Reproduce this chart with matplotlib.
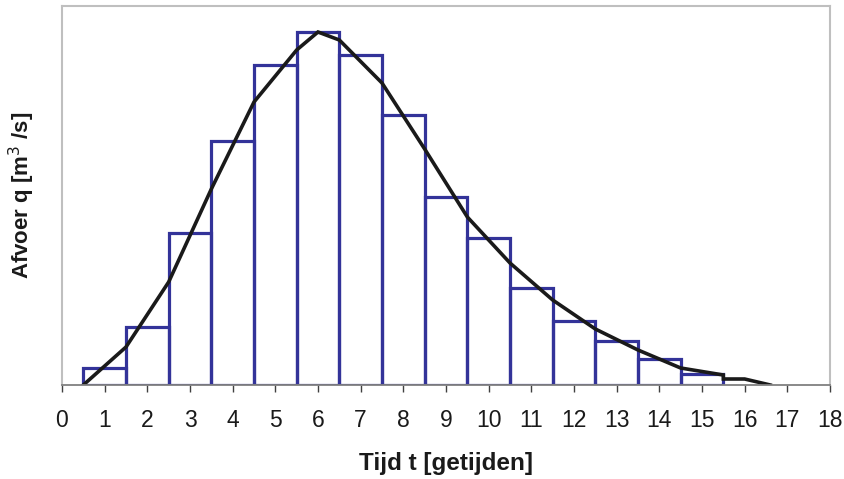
import matplotlib
matplotlib.use("Agg")
import matplotlib.pyplot as plt

# Data (relative discharge units)
bar_t = [1, 2, 3, 4, 5, 6, 7, 8, 9, 10, 11, 12, 13, 14, 15]
bar_q = [1.7, 5.8, 15.2, 24.4, 32.0, 35.3, 33.0, 27.0, 18.8, 14.7, 9.7, 6.4, 4.4, 2.6, 1.1]

line_t = [0.5, 1.5, 2.5, 3.5, 4.5, 5.5, 6.0, 6.5, 7.5, 8.5, 9.5, 10.5, 11.5, 12.5, 13.5, 14.5, 15.5, 15.5, 16.0, 16.6]
line_q = [0.0, 3.8, 10.3, 19.6, 28.3, 33.5, 35.3, 34.5, 30.2, 23.6, 16.8, 12.2, 8.5, 5.6, 3.5, 1.7, 1.0, 0.6, 0.6, 0.0]

xticks = list(range(0, 19))

plt.rcParams['font.family'] = ['Liberation Sans', 'DejaVu Sans']

fig = plt.figure(figsize=(8.44, 4.79), dpi=100)
ax = fig.add_axes([62/844, 1 - 385/479, (830 - 62)/844, (385 - 6)/479])

ax.bar(bar_t, bar_q, width=1.0, fill=False, edgecolor='#333399', linewidth=2.3, zorder=2)
ax.plot(line_t, line_q, color='#1a1a1a', linewidth=2.6, zorder=3, solid_joinstyle='miter')

ax.set_xlim(0, 18)
ax.set_ylim(0, 37.9)
ax.set_xticks(xticks)
ax.set_xticklabels([str(t) for t in xticks], fontsize=16.5, color='#1a1a1a')
ax.set_yticks([])

for s in ['left', 'top', 'right']:
    ax.spines[s].set_color('#BFBFBF')
    ax.spines[s].set_linewidth(1.5)
ax.spines['bottom'].set_color('#808080')
ax.spines['bottom'].set_linewidth(1.3)
ax.spines['bottom'].set_zorder(4)
ax.tick_params(axis='x', direction='out', length=5, width=1.0, color='#404040', pad=12)

ax.set_xlabel('Tijd t [getijden]', fontsize=17.5, fontweight='bold', labelpad=15, color='#1a1a1a')
ax.set_ylabel('Afvoer q [m$^3$ /s]', fontsize=16, fontweight='bold', labelpad=18, color='#1a1a1a')

fig.savefig('out.png', dpi=100)
